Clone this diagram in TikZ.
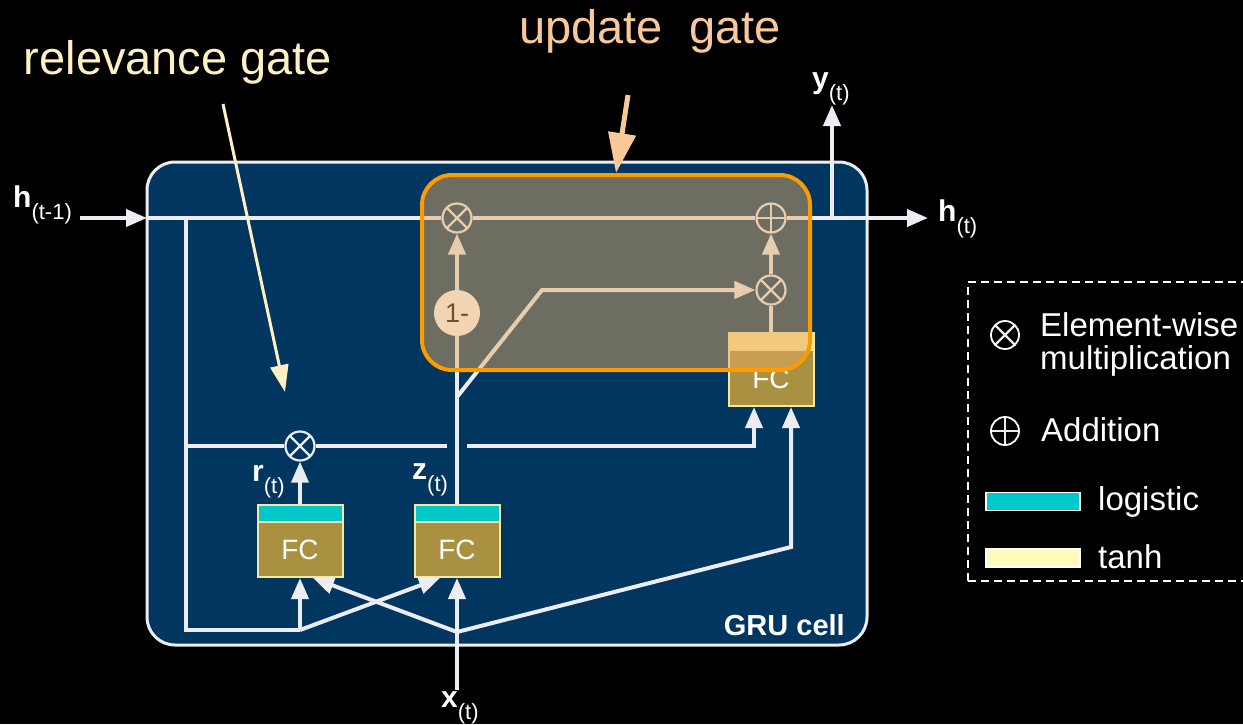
\documentclass[tikz,border=0pt]{standalone}
\usepackage{fontspec}
\setmainfont{Liberation Sans}
\usetikzlibrary{arrows.meta}
\definecolor{navy}{RGB}{0,54,96}
\definecolor{wline}{RGB}{236,236,242}
\definecolor{fcfill}{RGB}{170,145,66}
\definecolor{fcedge}{RGB}{245,232,160}
\definecolor{logi}{RGB}{0,200,200}
\definecolor{tanhc}{RGB}{255,232,150}
\definecolor{legtanh}{RGB}{255,250,185}
\definecolor{ugorange}{RGB}{255,154,0}
\definecolor{ovl}{RGB}{229,171,100}
\definecolor{peach}{RGB}{248,200,152}
\definecolor{cream}{RGB}{255,240,196}
\newcommand\lab[2]{\textbf{#1}\raisebox{-0.40em}{\fontsize{22}{23}\selectfont #2}}
\begin{document}
\begin{tikzpicture}[x=1pt,y=-1pt,
  wl/.style={draw=wline, line width=4pt},
  warrow/.style={wl, -{Triangle[length=21pt,width=17pt]}},
  opcirc/.style={circle, draw=wline, line width=2.2pt, fill=navy, minimum size=29pt, inner sep=0pt},
  mul/.style={opcirc, path picture={\draw[wline, line width=2.2pt]
     (path picture bounding box.north west) -- (path picture bounding box.south east)
     (path picture bounding box.north east) -- (path picture bounding box.south west);}},
  plusop/.style={opcirc, path picture={\draw[wline, line width=2.2pt]
     (path picture bounding box.north) -- (path picture bounding box.south)
     (path picture bounding box.east) -- (path picture bounding box.west);}},
  onec/.style={circle, fill=white, minimum size=46pt, inner sep=0pt, text=black, font=\fontsize{27}{27}\selectfont},
  fc/.style={rectangle, draw=fcedge, line width=2pt, fill=fcfill, minimum width=85pt, minimum height=72pt,
     inner sep=0pt, text=white, font=\fontsize{28}{28}\selectfont, text height=37pt, text depth=0pt},
  fcband/.style={path picture={\fill[#1] (path picture bounding box.north west) rectangle ([yshift=-17pt]path picture bounding box.north east);
     \draw[fcedge, line width=1.5pt] ([yshift=-17pt]path picture bounding box.north west) -- ([yshift=-17pt]path picture bounding box.north east);}},
  cellbox/.style={draw=wline, line width=3pt, fill=navy, rounded corners=28pt, minimum width=720pt, minimum height=483pt, inner sep=0pt},
  ugbox/.style={draw=ugorange, line width=4pt, fill=ovl, fill opacity=0.48, rounded corners=30pt, minimum width=388pt, minimum height=195pt, inner sep=0pt},
  lbl/.style={text=white, inner sep=0pt, anchor=base west, font=\fontsize{30}{32}\selectfont},
  legtext/.style={text=white, inner sep=0pt, anchor=base west, font=\fontsize{33}{35}\selectfont},
  legbar/.style={draw=white, line width=1.5pt, minimum width=94pt, minimum height=18pt, inner sep=0pt},
  title/.style={inner sep=0pt, anchor=base, font=\fontsize{47}{52}\selectfont},
]
\useasboundingbox[fill=black] (0,0) rectangle (1243,724);
\node[cellbox] (cell) at (507,403.5) {};
\node[text=white, inner sep=0pt, anchor=base east, font=\bfseries\fontsize{29}{30}\selectfont] (gru) at (845,635) {GRU cell};
% junctions
\coordinate (hin) at (80,218);
\coordinate (hL) at (147,218);
\coordinate (jL) at (186,218);
\coordinate (jB) at (186,630);
\coordinate (jR) at (300,630);
\coordinate (jX) at (457,632);
\coordinate (xin) at (457,690);
\coordinate (jX2) at (791,547);
\coordinate (jL2) at (186,446);
\coordinate (gapL) at (447,446);
\coordinate (gapR) at (467,446);
\coordinate (jH) at (754,446);
\coordinate (jZ) at (457,397);
\coordinate (bend) at (542,290);
\coordinate (hR) at (832,218);
\coordinate (hout) at (928,218);
\coordinate (yout) at (832,105);
% operators and blocks
\node[mul] (m1) at (457,218) {};
\node[plusop] (add) at (771,218) {};
\node[mul] (m2) at (771,290) {};
\node[mul] (mr) at (300,446) {};
\node[onec] (one) at (457,313) {1-};
\node[fc, fcband=logi] (fcr) at (300,541) {FC};
\node[fc, fcband=logi] (fcz) at (457,541) {FC};
\node[fc, fcband=tanhc, minimum height=73pt] (fch) at (771,369.5) {FC};
% connectors
\draw[warrow] (hin) -- (hL);
\draw[wl] (hL) -- (m1);
\draw[wl] (m1) -- (add);
\draw[wl] (add) -- (hR);
\draw[warrow] (hR) -- (hout);
\draw[warrow] (hR) -- (yout);
\draw[wl] (jL) -- (jB) -- (jR);
\draw[warrow] (jR) -- (fcr.south);
\draw[warrow] (jR) -- ([xshift=-17pt]fcz.south);
\draw[warrow] (xin) -- (fcz.south);
\draw[warrow] (jX) -- ([xshift=13pt]fcr.south);
\draw[warrow] (jX) -- (jX2) -- ([xshift=20pt]fch.south);
\draw[warrow] (fcr.north) -- (mr);
\draw[wl] (jL2) -- (mr);
\draw[wl] (mr) -- (gapL);
\draw[warrow] (gapR) -- (jH) -- ([xshift=-17pt]fch.south);
\draw[wl] (fcz.north) -- (one);
\draw[warrow] (one) -- (m1);
\draw[warrow] (jZ) -- (bend) -- (m2);
\draw[wl] (fch.north) -- (m2);
\draw[warrow] (m2) -- (add);
% update gate overlay
\node[ugbox] (ug) at (616,272.5) {};
% labels
\node[lbl] (lh0) at (13,207) {\lab{h}{(t-1)}};
\node[lbl] (lh1) at (938,221) {\lab{h}{(t)}};
\node[lbl] (ly) at (812,88) {\lab{y}{(t)}};
\node[lbl] (lr) at (252,481) {\lab{r}{(t)}};
\node[lbl] (lz) at (412,479) {\lab{z}{(t)}};
\node[lbl] (lx) at (441,707) {\lab{x}{(t)}};
% titles
\node[title, text=cream] (rg) at (178,74) {relevance gate};
\node[title, text=peach] (ugt) at (650,43) {update\ \ gate};
\coordinate (rgstart) at (223,104);
\coordinate (rgend) at (285,392);
\draw[cream, line width=3pt, -{Triangle[length=27pt,width=18pt]}] (rgstart) -- (rgend);
\coordinate (ugstart) at (628,95);
\draw[peach, line width=5pt, -{Triangle[length=40pt,width=27pt]}] (ugstart) -- (ug.north);
% legend
\node[draw=white, line width=2pt, dash pattern=on 8pt off 5pt, minimum width=290pt, minimum height=299pt, inner sep=0pt] (legend) at (1113,431.5) {};
\node[mul, fill=black, draw=white, minimum size=28pt, line width=1.8pt] (lgm) at (1005,335) {};
\node[plusop, fill=black, draw=white, minimum size=28pt, line width=1.8pt] (lga) at (1005,431) {};
\node[legtext] (lgm1) at (1040,336) {Element-wise};
\node[legtext] (lgm2) at (1040,369) {multiplication};
\node[legtext] (lga1) at (1041,441) {Addition};
\node[legbar, fill=logi] (lgl) at (1033,501.5) {};
\node[legbar, fill=legtanh] (lgt) at (1033,558) {};
\node[legtext] (lgl1) at (1098,510) {logistic};
\node[legtext] (lgt1) at (1098,568) {tanh};
\end{tikzpicture}
\end{document}
